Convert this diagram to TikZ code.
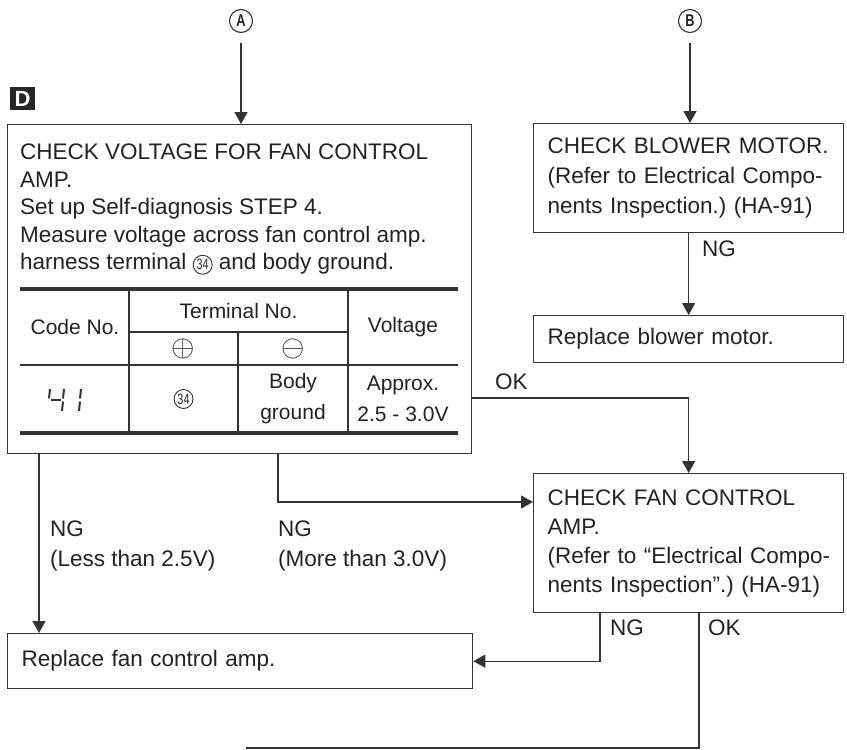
\documentclass[tikz,border=0pt]{standalone}
\usepackage{fontspec}
\setmainfont{Liberation Sans}
\usepackage{graphicx}
\usetikzlibrary{positioning, arrows.meta}

\definecolor{linec}{HTML}{333333}
\definecolor{textc}{HTML}{222222}

\newcommand{\bodyfont}{\fontsize{22.5}{27.5}\selectfont\frenchspacing}
\newcommand{\boxfont}{\fontsize{22.5}{30}\selectfont\frenchspacing}
\newcommand{\tabfont}{\fontsize{21}{31}\selectfont}
% small circled terminal number
\newcommand{\circnum}[1]{\tikz[baseline=(cn.base)]\node[circle, draw=linec, line width=0.9pt, inner sep=0pt, minimum size=19pt, font=\fontsize{15}{15}\selectfont] (cn) {\scalebox{0.72}[1]{#1}};}

\tikzset{
    box/.style={draw=linec, line width=1.3pt, anchor=north west, align=left, inner xsep=14pt, inner ysep=0pt, font=\boxfont},
    flow/.style={draw=linec, line width=1.3pt},
    arr/.style={flow, -{Triangle[width=13pt, length=12pt]}},
    lbl/.style={anchor=west, align=left, inner sep=0pt, font=\boxfont},
    tcell/.style={align=center, inner sep=0pt, font=\tabfont},
    sign/.style={inner sep=0pt, font=\tabfont},
    conn/.style={circle, draw=linec, line width=1.1pt, inner sep=0pt, minimum size=23pt, font=\fontsize{17}{17}\selectfont\bfseries},
    seg/.style={draw=linec, line width=2pt},
}

\begin{document}
\begin{tikzpicture}[x=1pt, y=-1pt, every node/.append style={text=textc}]
    \useasboundingbox (0,0) rectangle (847,750);

    % connectors from previous page
    \node[conn] (ca) at (241,21) {\scalebox{0.75}[1]{A}};
    \node[conn] (cb) at (690,21) {\scalebox{0.75}[1]{B}};

    % step mark
    \node[fill=black!85, text=white, inner sep=0pt, minimum width=25pt, minimum height=23pt, font=\fontsize{22}{22}\selectfont\bfseries] (dmark) at (22.5,98.5) {D};

    % check voltage box
    \node[box, minimum width=464pt, minimum height=329pt] (chkv) at (7,124) {};
    \node[anchor=north west, align=left, inner sep=0pt, font=\bodyfont] (chkvtxt) at (20,144)
        {CHECK VOLTAGE FOR FAN CONTROL\\AMP.\\Set up Self-diagnosis STEP 4.\\Measure voltage across fan control amp.\\harness terminal \circnum{34} and body ground.};

    % voltage table
    \draw[draw=linec, line width=4pt] (20,289) -- (458,289);
    \draw[draw=linec, line width=4pt] (20,433) -- (458,433);
    \draw[flow] (20,365) -- (458,365);
    \draw[flow] (129,332) -- (348,332);
    \foreach \cx in {129, 348}
        \draw[flow] (\cx,291) -- (\cx,431);
    \draw[flow] (238,332) -- (238,431);

    \node[tcell] (tcode) at (75,327) {Code No.};
    \node[tcell] (tterm) at (238.5,311) {Terminal No.};
    \node[tcell] (tvolt) at (403,327) {Voltage};
    \node[sign] (tplus) at (183.5,349) {\scalebox{1.45}{$\oplus$}};
    \node[sign] (tminus) at (293,349) {\scalebox{1.45}{$\ominus$}};
    \node[tcell] (tplusv) at (183.5,399) {\circnum{34}};
    \node[tcell] (tminusv) at (293,399) {Body\\ground};
    \node[tcell] (tvoltv) at (403,399) {Approx.\\2.5 - 3.0V};

    % code 41 in segment digits
    \draw[seg] (50,389) -- (49,398.5);
    \draw[seg] (50.5,400) -- (61,400);
    \draw[seg] (64,389) -- (63,398.5);
    \draw[seg] (63,401.5) -- (62,411);
    \draw[seg] (81,389) -- (80,398.5);
    \draw[seg] (80,401.5) -- (79,411);

    % right column
    \node[box, minimum width=310pt, minimum height=109pt, text width=282pt] (blow) at (533,123)
        {CHECK BLOWER MOTOR.\\\mbox{(Refer to Electrical Compo-}\\\mbox{nents Inspection.) (HA-91)}};
    \node[box, minimum width=310pt, minimum height=47pt, text width=282pt] (repb) at (533,315)
        {Replace blower motor.};
    \node[box, minimum width=310pt, minimum height=139pt, text width=282pt, font=\fontsize{22.5}{29}\selectfont\frenchspacing] (fan) at (533,473)
        {CHECK FAN CONTROL\\AMP.\\\mbox{(Refer to “Electrical Compo-}\\\mbox{nents Inspection”.) (HA-91)}};

    % replace amp
    \node[box, minimum width=465pt, minimum height=55pt, text width=437pt] (repf) at (7,633)
        {Replace fan control amp.};

    % bend points
    \coordinate (okrow) at (600,398);
    \coordinate (ngl) at (39,0);
    \coordinate (ngm) at (278,0);
    \coordinate (ngmrow) at (0,502);
    \coordinate (fng) at (600,0);
    \coordinate (fok) at (699,748);
    \coordinate (fokend) at (246,748);

    % connectors
    \draw[arr, shorten <=10pt] (ca) -- (ca |- chkv.north);
    \draw[arr, shorten <=10pt] (cb) -- (cb |- blow.north);
    \draw[arr] (blow) -- (repb);
    \draw[arr] (chkv.east |- okrow) -| (fan);
    \draw[arr] (chkv.south -| ngl) -- (repf.north -| ngl);
    \draw[arr] (chkv.south -| ngm) |- (fan.west |- ngmrow);
    \draw[arr] (fan.south -| fng) |- (repf.east);
    \draw[flow] (fan.south -| fok) -- (fok) -- (fokend);

    % labels
    \node[lbl] (ngblow) at (702,249) {NG};
    \node[lbl] (okv) at (495,382) {OK};
    \node[lbl] (ngless) at (50,546) {NG\\(Less than 2.5V)};
    \node[lbl] (ngmore) at (278,546) {NG\\(More than 3.0V)};
    \node[lbl] (ngfan) at (610,628) {NG};
    \node[lbl] (okfan) at (708,628) {OK};
\end{tikzpicture}
\end{document}
